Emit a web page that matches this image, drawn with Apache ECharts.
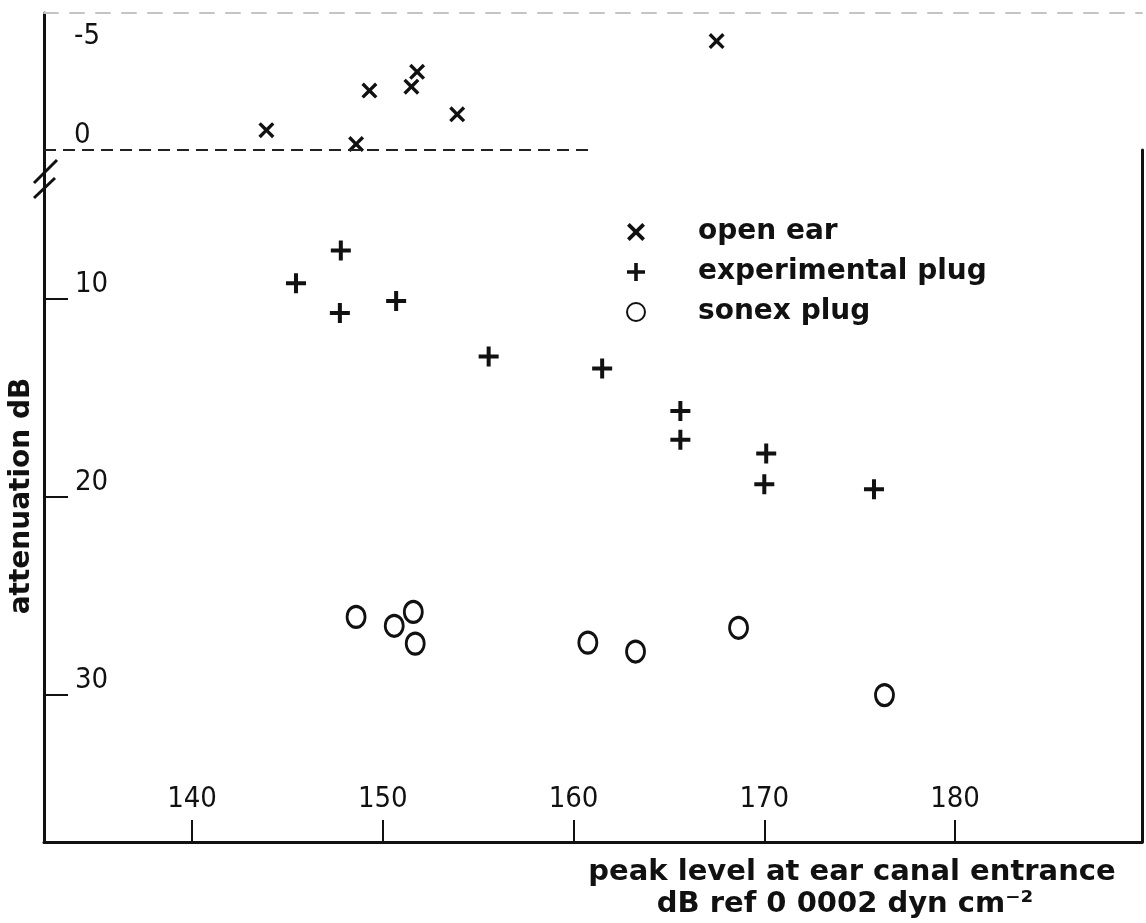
<!DOCTYPE html>
<html>
<head>
<meta charset="utf-8">
<script src="https://cdn.jsdelivr.net/npm/echarts@6/dist/echarts.min.js"></script>
<style>
html,body{margin:0;padding:0;background:#fff;}
#chart{width:1146px;height:923px;}
</style>
</head>
<body>
<div id="chart"></div>
<script>
// ---- data ----
const openEarX = [143.9, 148.6, 149.3, 151.5, 151.8, 153.9, 167.5];
const openEarY = [-1.0, -0.3, -3.0, -3.2, -3.95, -1.8, -5.5];
const plugX = [145.45, 147.8, 147.75, 150.7, 155.55, 161.5, 165.6, 165.6, 170.1, 170.0, 175.75];
const plugY = [9.2, 7.55, 10.7, 10.1, 12.9, 13.5, 15.65, 17.1, 17.8, 19.35, 19.6];
const sonexX = [148.6, 150.6, 151.6, 151.7, 160.75, 163.25, 168.65, 176.3];
const sonexY = [26.05, 26.5, 25.8, 27.4, 27.35, 27.8, 26.6, 30.0];
const xTicks = [140, 150, 160, 170, 180];
const yTicksUpper = [-5, 0];
const yTicksLower = [10, 20, 30];
const seriesNames = ['open ear', 'experimental plug', 'sonex plug'];

const zip = (xs, ys) => xs.map((x, i) => [x, ys[i]]);

const INK = '#111';
const NARROW = '"Liberation Sans Narrow", "DejaVu Sans Condensed", "Arial Narrow", sans-serif';
const WIDE = '"DejaVu Sans", sans-serif';
const X_MIN = 132.24, X_MAX = 189.8;
const PLUS = 'path://M8,0H12V8H20V12H12V20H8V12H0V8H8Z';
const CROSS = 'path://M0,3L3,0L10,7L17,0L20,3L13,10L20,17L17,20L10,13L3,20L0,17L7,10Z';

const chart = echarts.init(document.getElementById('chart'), null, {renderer: 'canvas'});

const nameGraphics = [
  {type: 'text', x: 852, y: 872,
   style: {text: 'peak level at ear canal entrance', fill: INK, fontSize: 29, fontWeight: 'bold',
           fontFamily: WIDE, align: 'center', verticalAlign: 'middle'}},
  {type: 'text', x: 845, y: 904,
   style: {text: 'dB ref 0 0002 dyn cm\u207B\u00B2', fill: INK, fontSize: 29, fontWeight: 'bold',
           fontFamily: WIDE, align: 'center', verticalAlign: 'middle'}}
];

const option = {
  backgroundColor: '#fff',
  animation: false,
  grid: [
    {left: 44, right: 4, top: 13, height: 137},
    {left: 44, right: 4, top: 150, bottom: 81}
  ],
  xAxis: [
    {gridIndex: 0, type: 'value', min: X_MIN, max: X_MAX,
     axisLine: {show: false}, axisTick: {show: false}, axisLabel: {show: false}, splitLine: {show: false}},
    {gridIndex: 0, type: 'value', position: 'top', min: X_MIN, max: X_MAX,
     axisLine: {show: true, lineStyle: {color: '#c4c4c4', width: 2, type: [14, 12]}},
     axisTick: {show: false}, axisLabel: {show: false}, splitLine: {show: false}},
    {gridIndex: 1, type: 'value', min: X_MIN, max: X_MAX,
     axisLine: {show: true, lineStyle: {color: INK, width: 3}},
     axisTick: {show: true, inside: true, length: 22, customValues: xTicks, lineStyle: {color: INK, width: 2}},
     axisLabel: {show: true, inside: true, margin: 28, customValues: xTicks, color: INK,
                 fontSize: 29, fontFamily: NARROW},
     splitLine: {show: false}}
  ],
  yAxis: [
    {gridIndex: 0, type: 'value', inverse: true, min: -6.92, max: 0,
     axisLine: {show: true, lineStyle: {color: INK, width: 3}},
     axisTick: {show: false},
     axisLabel: {show: true, inside: true, margin: 30, customValues: yTicksUpper, color: INK,
                 fontSize: 29, fontFamily: NARROW, verticalAlign: 'bottom', lineHeight: 29},
     splitLine: {show: false}},
    {gridIndex: 1, type: 'value', inverse: true, min: 2.47, max: 37.42,
     name: 'attenuation dB', nameLocation: 'middle', nameRotate: 90, nameGap: 6,
     nameTextStyle: {color: INK, fontSize: 28, fontWeight: 'bold', fontFamily: WIDE},
     axisLine: {show: true, lineStyle: {color: INK, width: 3}},
     axisTick: {show: true, inside: true, length: 24, customValues: yTicksLower, lineStyle: {color: INK, width: 2}},
     axisLabel: {show: true, inside: true, margin: 31, customValues: yTicksLower, color: INK,
                 fontSize: 29, fontFamily: NARROW, verticalAlign: 'bottom', lineHeight: 29},
     splitLine: {show: false}},
    {gridIndex: 1, type: 'value', position: 'right', inverse: true, min: 2.47, max: 37.42,
     axisLine: {show: true, lineStyle: {color: INK, width: 3}},
     axisTick: {show: false}, axisLabel: {show: false}, splitLine: {show: false}}
  ],
  legend: {
    orient: 'vertical', left: 621, top: 213,
    itemWidth: 20, itemHeight: 18, itemGap: 12,
    selectedMode: false,
    textStyle: {color: INK, fontSize: 28, fontWeight: 'bold', fontFamily: WIDE, lineHeight: 20, padding: [0, 0, 0, 47]},
    data: [
      {name: seriesNames[0], icon: CROSS},
      {name: seriesNames[1], icon: PLUS},
      {name: seriesNames[2], icon: 'circle'}
    ]
  },
  series: [
    {name: seriesNames[0], type: 'scatter', xAxisIndex: 0, yAxisIndex: 0, clip: false,
     symbol: CROSS, symbolSize: 16, itemStyle: {color: INK, opacity: 1},
     data: zip(openEarX, openEarY),
     markLine: {silent: true, symbol: 'none', label: {show: false},
                lineStyle: {color: '#222', width: 2, type: [12, 7]},
                data: [[{coord: [X_MIN, 0]}, {coord: [161, 0]}]]}},
    {name: seriesNames[1], type: 'scatter', xAxisIndex: 2, yAxisIndex: 1, clip: false,
     symbol: PLUS, symbolSize: 20, itemStyle: {color: INK, opacity: 1},
     data: zip(plugX, plugY)},
    {name: seriesNames[2], type: 'scatter', xAxisIndex: 2, yAxisIndex: 1, clip: false,
     symbol: 'circle', symbolSize: [18, 21],
     itemStyle: {color: '#fff', borderColor: INK, borderWidth: 3, opacity: 1},
     data: zip(sonexX, sonexY)}
  ],
  graphic: nameGraphics
};

chart.setOption(option);

// axis-break mark "//" on the left axis, placed just below the 0 line
const p0 = chart.convertToPixel({xAxisIndex: 0, yAxisIndex: 0}, [X_MIN, 0]);
chart.setOption({
  graphic: nameGraphics.concat([
    {type: 'line', shape: {x1: p0[0] - 10, y1: p0[1] + 33, x2: p0[0] + 13, y2: p0[1] + 10},
     style: {stroke: INK, lineWidth: 3}},
    {type: 'line', shape: {x1: p0[0] - 10, y1: p0[1] + 48, x2: p0[0] + 11, y2: p0[1] + 28},
     style: {stroke: INK, lineWidth: 3}}
  ])
}, {replaceMerge: ['graphic']});
</script>
</body>
</html>
